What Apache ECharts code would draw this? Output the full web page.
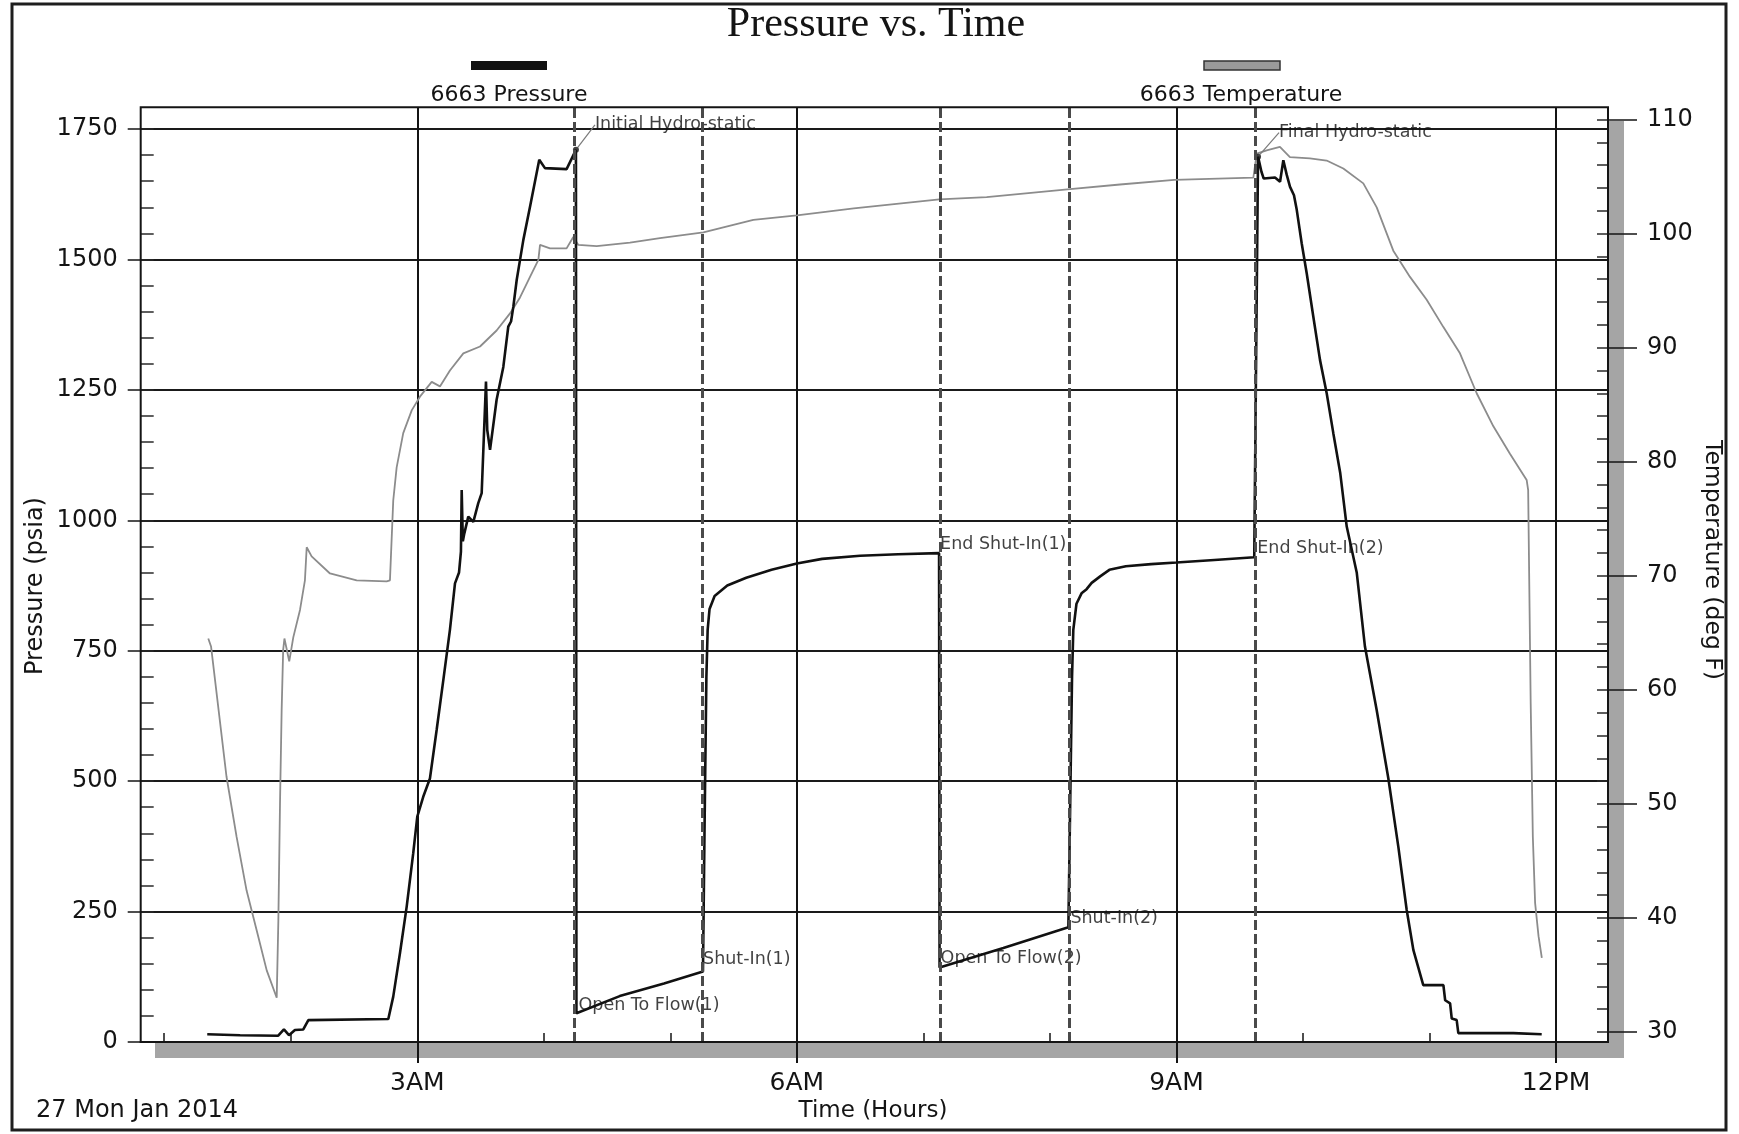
<!DOCTYPE html>
<html>
<head>
<meta charset="utf-8">
<title>Pressure vs. Time</title>
<script src="https://cdn.jsdelivr.net/npm/echarts@6/dist/echarts.min.js"></script>
<style>
  html, body { margin: 0; padding: 0; background: #ffffff; }
  #chart { width: 1739px; height: 1134px; }
</style>
</head>
<body>
<div id="chart"></div>
<script>
// ---- Time axis (decimal hours, 27 Jan 2014) ----
const timeMin = 0.814;
const timeMax = 12.411;
const majorHours = [3, 6, 9, 12];
const majorHourLabels = ['3AM', '6AM', '9AM', '12PM'];
const minorHours = [1, 2, 4, 5, 7, 8, 10, 11];

// ---- Gauge 6663 pressure (psia) ----
const pressureHours = [
  1.340, 1.600, 1.901, 1.946, 1.986, 2.033, 2.099, 2.139, 2.771, 2.810,
  2.863, 2.916, 2.968, 3.000, 3.047, 3.100, 3.153, 3.206, 3.258, 3.298,
  3.330, 3.345, 3.351, 3.360, 3.372, 3.403, 3.443, 3.482, 3.509, 3.543,
  3.553, 3.575, 3.627, 3.680, 3.719, 3.741, 3.759, 3.786, 3.838, 3.891,
  3.964, 4.009, 4.180, 4.254, 4.258, 4.600, 4.950, 5.258, 5.270, 5.285,
  5.295, 5.310, 5.350, 5.450, 5.600, 5.800, 6.000, 6.200, 6.500, 6.800,
  7.124, 7.128, 7.632, 8.146, 8.160, 8.175, 8.185, 8.210, 8.250, 8.290,
  8.330, 8.400, 8.470, 8.600, 8.800, 9.000, 9.300, 9.615, 9.645, 9.672,
  9.690, 9.779, 9.819, 9.845, 9.872, 9.898, 9.929, 9.951, 9.990, 10.030,
  10.082, 10.135, 10.188, 10.240, 10.295, 10.346, 10.425, 10.490, 10.583, 10.675,
  10.754, 10.820, 10.873, 10.951, 11.110, 11.124, 11.163, 11.176, 11.215, 11.228,
  11.663, 11.887
];
const pressurePsia = [
  15, 13, 12, 24, 13, 23, 24, 42, 44, 87,
  170, 259, 362, 432, 470, 505, 598, 694, 790, 879,
  900, 940, 1058, 960, 975, 1007, 997, 1033, 1052, 1266,
  1173, 1135, 1231, 1294, 1371, 1381, 1409, 1461, 1537, 1601,
  1691, 1675, 1673, 1710, 55, 88, 112, 135, 400, 700,
  790, 830, 855, 875, 890, 905, 917, 926, 932, 935,
  937, 143, 180, 220, 450, 700, 790, 840, 860, 868,
  880, 893, 905, 912, 916, 919, 924, 929, 1697, 1668,
  1655, 1657, 1649, 1690, 1662, 1639, 1623, 1595, 1531, 1473,
  1390, 1307, 1243, 1167, 1090, 988, 900, 758, 636, 505,
  374, 253, 176, 109, 109, 80, 74, 45, 42, 17,
  17, 15
];

// ---- Gauge 6663 temperature (deg F) ----
const temperatureHours = [
  1.348, 1.370, 1.492, 1.572, 1.651, 1.731, 1.810, 1.889, 1.902, 1.915,
  1.928, 1.940, 1.950, 1.988, 2.020, 2.073, 2.112, 2.126, 2.165, 2.310,
  2.521, 2.758, 2.784, 2.810, 2.837, 2.889, 2.956, 3.021, 3.114, 3.179,
  3.258, 3.364, 3.496, 3.627, 3.733, 3.812, 3.891, 3.957, 3.970, 4.049,
  4.180, 4.233, 4.273, 4.418, 4.681, 4.918, 5.261, 5.656, 6.000, 6.450,
  7.126, 7.500, 8.159, 8.554, 8.983, 9.608, 9.635, 9.713, 9.818, 9.897,
  10.055, 10.187, 10.319, 10.477, 10.583, 10.714, 10.846, 10.978, 11.110, 11.241,
  11.373, 11.505, 11.636, 11.768, 11.780, 11.800, 11.817, 11.835, 11.862, 11.888
];
const temperatureDegF = [
  64.5, 63.8, 52.4, 47.1, 42.4, 38.9, 35.4, 33.0, 39.8, 50.0,
  58.2, 63.5, 64.5, 62.5, 64.6, 67.0, 69.6, 72.5, 71.7, 70.2,
  69.6, 69.5, 69.6, 76.6, 79.5, 82.5, 84.5, 85.7, 87.0, 86.6,
  88.0, 89.5, 90.1, 91.5, 93.0, 94.4, 96.2, 97.7, 99.0, 98.7,
  98.7, 99.7, 99.0, 98.9, 99.2, 99.6, 100.1, 101.2, 101.6, 102.2,
  103.0, 103.2, 103.9, 104.3, 104.7, 104.9, 107.0, 107.3, 107.6, 106.7,
  106.6, 106.4, 105.7, 104.4, 102.3, 98.5, 96.2, 94.2, 91.8, 89.5,
  86.0, 83.1, 80.7, 78.4, 77.5, 58.8, 47.1, 41.3, 38.4, 36.5
];

// ---- Test events (annotated on the pressure trace) ----
const eventNames = [
  'Initial Hydro-static', 'Open To Flow(1)', 'Shut-In(1)', 'End Shut-In(1)',
  'Open To Flow(2)', 'Shut-In(2)', 'End Shut-In(2)', 'Final Hydro-static'
];
const eventHours = [4.254, 4.258, 5.258, 7.124, 7.128, 8.146, 9.615, 9.645];
const eventPsia = [1710, 55, 135, 937, 143, 220, 929, 1697];
// Event marker lines (dashed verticals)
const markerHours = [4.240, 5.254, 7.126, 8.155, 9.621];

// ---- Styling helpers ----
const FONT = 'DejaVu Sans';
const INK = '#141414';
const W = 1739, H = 1134;
const frame = { left: 140.7, top: 107.3, right: 1608, bottom: 1042 };
// label shift (px) from each event point, and whether a leader line is drawn
const eventLabelShift = [[16, -25], [2, -8], [0, -12], [1, -9], [1, -9], [2, -9], [3, -9], [18, -24]];
const eventHasLeader = [true, false, false, false, false, false, false, true];

const zip = (xs, ys) => xs.map((x, i) => [x, ys[i]]);

const chart = echarts.init(document.getElementById('chart'), null, { renderer: 'canvas' });

const gridBase = { left: frame.left, right: W - frame.right, outerBoundsMode: 'none', containLabel: false };

const hiddenX = (gridIndex) => ({ type: 'value', gridIndex, min: timeMin, max: timeMax, show: false });

const centered = { textAlign: 'center', textVerticalAlign: 'middle', align: 'center', verticalAlign: 'middle' };

const option = {
  backgroundColor: '#ffffff',
  animation: false,
  grid: [
    Object.assign({ top: frame.top, bottom: H - frame.bottom }, gridBase),  // plot frame
    Object.assign({ top: 129, bottom: H - 1042 }, gridBase),               // pressure scale
    Object.assign({ top: 119.5, bottom: H - 1032 }, gridBase)              // temperature scale
  ],
  xAxis: [
    {
      type: 'value', gridIndex: 0, min: timeMin, max: timeMax, position: 'bottom',
      axisLine: { show: true, lineStyle: { color: INK, width: 2 } },
      axisTick: { show: true, customValues: majorHours, length: 21, lineStyle: { color: INK, width: 2 } },
      axisLabel: {
        show: true, customValues: majorHours, margin: 29,
        fontFamily: FONT, fontSize: 25, color: INK,
        formatter: (v) => majorHourLabels[majorHours.indexOf(Math.round(v))]
      },
      splitLine: { show: true, lineStyle: { color: INK, width: 2 } }
    },
    {
      type: 'value', gridIndex: 0, min: timeMin, max: timeMax, position: 'bottom',
      axisLine: { show: false },
      axisTick: { show: true, inside: true, customValues: minorHours, length: 9, lineStyle: { color: INK, width: 1.5 } },
      axisLabel: { show: false },
      splitLine: { show: false }
    },
    hiddenX(1),
    hiddenX(2)
  ],
  yAxis: [
    { type: 'value', gridIndex: 0, min: 0, max: 1, show: false },
    {
      type: 'value', gridIndex: 1, min: 0, max: 1750, interval: 250, position: 'left',
      axisLine: { show: false },
      axisTick: { show: true, length: 13, lineStyle: { color: INK, width: 1.5 } },
      axisLabel: { show: true, margin: 23, fontFamily: FONT, fontSize: 24, color: INK,
                   formatter: (v) => String(v) },
      splitLine: { show: true, lineStyle: { color: '#1a1a1a', width: 1.8 } }
    },
    {
      type: 'value', gridIndex: 1, min: 0, max: 1750, interval: 50, position: 'left',
      axisLine: { show: false },
      axisTick: { show: true, inside: true, length: 13, lineStyle: { color: '#2a2a2a', width: 1.5 } },
      axisLabel: { show: false },
      splitLine: { show: false }
    },
    {
      type: 'value', gridIndex: 2, min: 30, max: 110, interval: 10, position: 'right',
      axisLine: { show: false },
      axisTick: { show: true, length: 29, lineStyle: { color: INK, width: 1.5 } },
      axisLabel: { show: true, margin: 39, fontFamily: FONT, fontSize: 24, color: INK,
                   formatter: (v) => String(v) },
      splitLine: { show: false }
    },
    {
      type: 'value', gridIndex: 2, min: 30, max: 110, interval: 2, position: 'right',
      axisLine: { show: false },
      axisTick: { show: true, inside: true, length: 11, lineStyle: { color: '#2a2a2a', width: 1.5 } },
      axisLabel: { show: false },
      splitLine: { show: false }
    }
  ],
  series: [
    {
      name: 'Event markers', type: 'line', xAxisIndex: 0, yAxisIndex: 0, data: [],
      silent: true, z: 1,
      markLine: {
        silent: true, symbol: ['none', 'none'], label: { show: false },
        lineStyle: { color: '#4a4a4a', width: 3, type: [10, 4] },
        data: markerHours.map((h) => ({ xAxis: h }))
      }
    },
    {
      name: '6663 Temperature', type: 'line', xAxisIndex: 3, yAxisIndex: 3,
      data: zip(temperatureHours, temperatureDegF),
      showSymbol: false, silent: true, z: 2,
      lineStyle: { color: '#8c8c8c', width: 1.8 }
    },
    {
      name: '6663 Pressure', type: 'line', xAxisIndex: 2, yAxisIndex: 1,
      data: zip(pressureHours, pressurePsia),
      showSymbol: false, silent: true, z: 3,
      lineStyle: { color: '#111111', width: 2.6 }
    },
    {
      name: 'Events', type: 'scatter', xAxisIndex: 2, yAxisIndex: 1, z: 4, silent: true,
      data: eventNames.map((n, i) => ({
        name: n,
        value: [eventHours[i], eventPsia[i]],
        symbolSize: eventHasLeader[i] ? 6 : 0.1,
        labelLine: { show: eventHasLeader[i], lineStyle: { color: '#7a7a7a', width: 1.2 } }
      })),
      itemStyle: { color: '#111111' },
      label: {
        show: true, position: 'right', distance: 0,
        formatter: (p) => p.name,
        fontFamily: FONT, fontSize: 17.5, color: '#111111'
      },
      labelLayout: (p) => ({ dx: eventLabelShift[p.dataIndex][0], dy: eventLabelShift[p.dataIndex][1] })
    }
  ],
  graphic: [
    // page border
    { type: 'rect', z: -30, silent: true, shape: { x: 12, y: 4, width: 1714, height: 1126 },
      style: { fill: '#ffffff', stroke: '#1e1e1e', lineWidth: 3 } },
    // drop shadow behind the plot frame
    { type: 'rect', z: -20, silent: true, shape: { x: 155, y: 121, width: 1469, height: 937 },
      style: { fill: '#a5a5a5' } },
    // plot background
    { type: 'rect', z: -10, silent: true,
      shape: { x: frame.left, y: frame.top, width: frame.right - frame.left, height: frame.bottom - frame.top },
      style: { fill: '#ffffff' } },
    // plot frame
    { type: 'rect', z: 20, silent: true,
      shape: { x: frame.left, y: frame.top, width: frame.right - frame.left, height: frame.bottom - frame.top },
      style: { fill: null, stroke: INK, lineWidth: 2 } },
    // title
    { type: 'text', z: 20, silent: true, x: 876, y: 25,
      style: Object.assign({ text: 'Pressure vs. Time', fontFamily: 'Liberation Serif', fontSize: 42, fill: INK }, centered) },
    // legend: pressure
    { type: 'rect', z: 20, silent: true, shape: { x: 471, y: 61, width: 76, height: 9 }, style: { fill: '#111111' } },
    { type: 'text', z: 20, silent: true, x: 509, y: 95.5,
      style: Object.assign({ text: '6663 Pressure', fontFamily: FONT, fontSize: 22, fill: INK }, centered) },
    // legend: temperature
    { type: 'rect', z: 20, silent: true, shape: { x: 1204, y: 61, width: 76, height: 9 },
      style: { fill: '#9a9a9a', stroke: '#333333', lineWidth: 1.5 } },
    { type: 'text', z: 20, silent: true, x: 1241, y: 95.5,
      style: Object.assign({ text: '6663 Temperature', fontFamily: FONT, fontSize: 22, fill: INK }, centered) },
    // axis names
    { type: 'text', z: 20, silent: true, x: 36, y: 586, rotation: Math.PI / 2,
      style: Object.assign({ text: 'Pressure (psia)', fontFamily: FONT, fontSize: 24, fill: INK }, centered) },
    { type: 'text', z: 20, silent: true, x: 1712, y: 560, rotation: -Math.PI / 2,
      style: Object.assign({ text: 'Temperature (deg F)', fontFamily: FONT, fontSize: 23.5, fill: INK }, centered) },
    { type: 'text', z: 20, silent: true, x: 873, y: 1111,
      style: Object.assign({ text: 'Time (Hours)', fontFamily: FONT, fontSize: 23, fill: INK }, centered) },
    // date stamp
    { type: 'text', z: 20, silent: true, x: 36, y: 1111,
      style: { text: '27 Mon Jan 2014', fontFamily: FONT, fontSize: 24, fill: INK,
               textAlign: 'left', textVerticalAlign: 'middle', align: 'left', verticalAlign: 'middle' } }
  ]
};

chart.setOption(option);
</script>
</body>
</html>
